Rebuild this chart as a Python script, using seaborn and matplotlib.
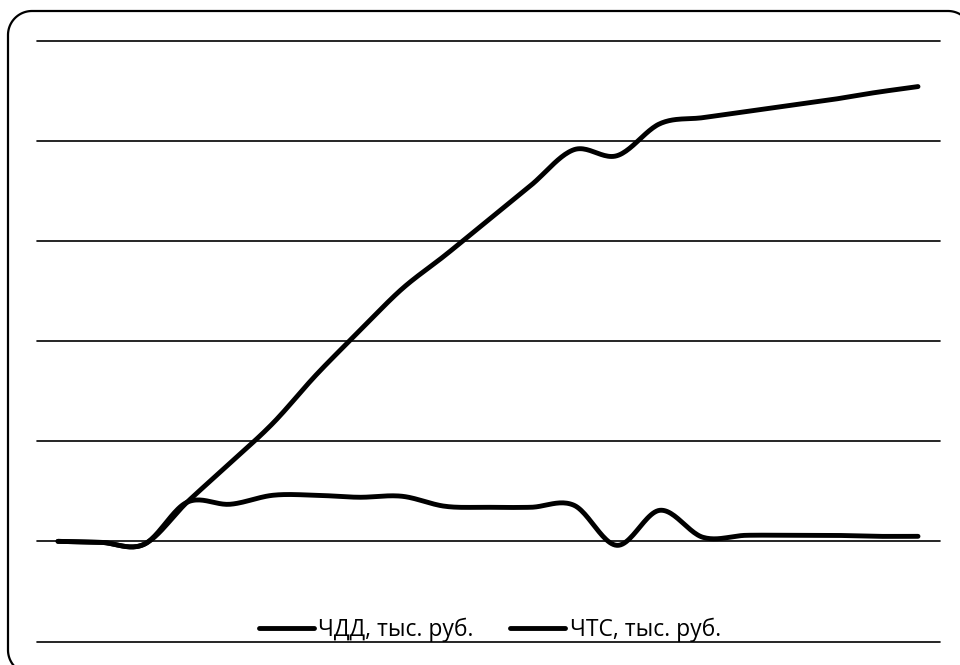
import numpy as np
import pandas as pd
import matplotlib
matplotlib.use("Agg")
import matplotlib.pyplot as plt
import seaborn as sns
from matplotlib.lines import Line2D
from matplotlib.transforms import IdentityTransform

# Periods (years) and the two cumulative series, thousand roubles
periods = list(range(21))
chdd_label = "ЧДД, тыс. руб."
chts_label = "ЧТС, тыс. руб."
chdd = [0, -10, -30, 390, 780, 1180, 1660, 2095, 2520, 2855, 3205,
        3555, 3910, 3850, 4170, 4230, 4290, 4350, 4410, 4480, 4540]
chts = [0, -10, -30, 390, 370, 460, 460, 440, 450, 350, 340,
        340, 360, -40, 310, 40, 60, 60, 60, 50, 50]
y_ticks = [-1000, 0, 1000, 2000, 3000, 4000, 5000]


def smooth_curve(xs, ys, steps=24):
    """Catmull-Rom style smoothing (Bezier handles at 1/6 of neighbour chord)."""
    xs = np.asarray(xs, float)
    ys = np.asarray(ys, float)
    n = len(xs)
    out_x, out_y = [], []
    t = np.linspace(0, 1, steps, endpoint=False)
    for i in range(n - 1):
        i0, i3 = max(i - 1, 0), min(i + 2, n - 1)
        p0 = np.array([xs[i0], ys[i0]])
        p1 = np.array([xs[i], ys[i]])
        p2 = np.array([xs[i + 1], ys[i + 1]])
        p3 = np.array([xs[i3], ys[i3]])
        c1 = p1 + (p2 - p0) / 6.0
        c2 = p2 - (p3 - p1) / 6.0
        b = ((1 - t) ** 3)[:, None] * p1 + (3 * (1 - t) ** 2 * t)[:, None] * c1 \
            + (3 * (1 - t) * t ** 2)[:, None] * c2 + (t ** 3)[:, None] * p2
        out_x.extend(b[:, 0])
        out_y.extend(b[:, 1])
    out_x.append(xs[-1])
    out_y.append(ys[-1])
    return out_x, out_y


def rounded_rect(x0, y0, x1, y1, r, n=30):
    """Closed outline of a rounded rectangle in pixel coordinates."""
    px, py = [], []
    corners = [(x1 - r, y1 - r, 0), (x0 + r, y1 - r, 90),
               (x0 + r, y0 + r, 180), (x1 - r, y0 + r, 270)]
    for cx, cy, a0 in corners:
        ang = np.radians(np.linspace(a0, a0 + 90, n))
        px.extend(cx + r * np.cos(ang))
        py.extend(cy + r * np.sin(ang))
    px.append(px[0])
    py.append(py[0])
    return px, py


frames = []
for label, values in [(chdd_label, chdd), (chts_label, chts)]:
    sx, sy = smooth_curve(periods, values)
    frames.append(pd.DataFrame({"period": sx, "value": sy, "series": label}))
df = pd.concat(frames, ignore_index=True)

sns.set_style("white")
plt.rcParams["font.family"] = ["Open Sans", "DejaVu Sans"]

fig = plt.figure(figsize=(9.6, 6.65), dpi=100)
ax = fig.add_axes([36.5 / 960, 1 - 641.5 / 665, 903 / 960, 601 / 665])

sns.lineplot(data=df, x="period", y="value", hue="series",
             palette=["black", "black"], sort=False, estimator=None,
             linewidth=3.5, legend=False, ax=ax, zorder=3,
             solid_capstyle="round")

for yv in y_ticks:
    ax.axhline(yv, color="black", lw=1.2, zorder=1, clip_on=False)

ax.set_xlim(-0.5, len(periods) - 0.5)
ax.set_ylim(y_ticks[0], y_ticks[-1])
ax.set_xticks([])
ax.set_yticks([])
ax.set_xlabel("")
ax.set_ylabel("")
for s in ax.spines.values():
    s.set_visible(False)
ax.patch.set_alpha(0)

handles = [Line2D([], [], color="black", lw=3.5, solid_capstyle="round"),
           Line2D([], [], color="black", lw=3.5, solid_capstyle="round")]
fig.legend(handles, [chdd_label, chts_label], loc="center",
           bbox_to_anchor=(490 / 960, 1 - 630 / 665), ncol=2, frameon=False,
           fontsize=16.5, handlelength=2.4, handletextpad=0.2,
           columnspacing=1.6, borderpad=0, labelcolor="black")

# Rounded chart frame (pixel coordinates, origin bottom-left)
fx, fy = rounded_rect(8, -9, 972, 654, 24)
fig.add_artist(Line2D(fx, fy, transform=IdentityTransform(),
                      color="black", lw=1.6))

fig.savefig("out.png", dpi=100)
